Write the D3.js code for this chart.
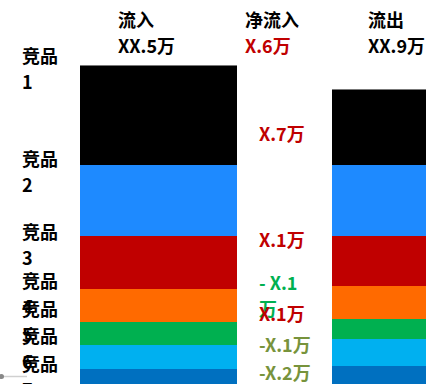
<!DOCTYPE html>
<html>
<head>
<meta charset="utf-8">
<script src="https://cdn.jsdelivr.net/npm/d3@7/dist/d3.min.js"></script>
<style>
  html, body { margin: 0; padding: 0; background: #fff; overflow: hidden; }
  svg { display: block; }
  text { font-family: "Microsoft YaHei", "Noto Sans CJK SC", sans-serif; font-weight: 700; }
</style>
</head>
<body>
<svg id="chart" width="426" height="384"></svg>
<script>
// Competitor categories, stacked top to bottom
const categories = ["竞品1", "竞品2", "竞品3", "竞品4", "竞品5", "竞品6", "竞品7"];
const segmentColors = ["#000000", "#1E8AFF", "#C00000", "#FF6A00", "#00B050", "#00B0F0", "#0070C0"];

// Flow amounts per competitor (万)
const inflow  = [4.00, 2.84, 2.12, 1.32, 0.92, 0.96, 1.24];
const outflow = [3.04, 2.84, 2.00, 1.32, 0.80, 1.08, 1.36];

// Column headers and their summary figures
const columns = ["流入", "流出"];
const headerTitles = ["流入", "净流入", "流出"];
const headerValues = ["XX.5万", "X.6万", "XX.9万"];
const headerValueColors = ["#000000", "#C00000", "#000000"];

// Net-flow annotations per competitor (null = not labelled)
const netLabels = ["X.7万", null, "X.1万", "- X.1 万", "X.1万", "-X.1万", "-X.2万"];
const netColors = ["#C00000", null, "#C00000", "#00B050", "#C00000", "#77933C", "#77933C"];

const svg = d3.select("#chart");

const y = d3.scaleLinear().domain([0, 16]).range([400, 0]);
const x = d3.scaleBand().domain(columns).range([80, 489]).paddingInner(0.377).paddingOuter(0);

function stackOf(values) {
  let acc = d3.sum(values);
  return values.map((v, i) => {
    const top = acc;
    acc -= v;
    return { i, top, bottom: acc };
  });
}

const stacks = { "流入": stackOf(inflow), "流出": stackOf(outflow) };

// Stacked bars
columns.forEach(col => {
  svg.append("g").selectAll("rect")
    .data(stacks[col])
    .join("rect")
    .attr("x", x(col))
    .attr("width", x.bandwidth())
    .attr("y", d => y(d.top))
    .attr("height", d => y(d.bottom) - y(d.top))
    .attr("fill", d => segmentColors[d.i]);
  // faint top edge
  const s = stacks[col][0];
  svg.append("line")
    .attr("x1", x(col)).attr("x2", x(col) + x.bandwidth())
    .attr("y1", y(s.top) + 0.5).attr("y2", y(s.top) + 0.5)
    .attr("stroke", "#777").attr("stroke-width", 1);
});

// Headers
const headerX = [x("流入") + 38, x("流入") + x.bandwidth() + 8, x("流出") + 36];
const header = svg.append("g").attr("font-size", 18);
headerTitles.forEach((t, i) => {
  header.append("text").attr("x", headerX[i]).attr("y", 27).attr("fill", "#000").text(t);
  header.append("text").attr("x", headerX[i]).attr("y", 53).attr("fill", headerValueColors[i]).text(headerValues[i]);
});

// Category labels on the left, two lines each, aligned to each inflow segment top
const labelNudge = [-8, -5, -3, -7, -12, -8, -4];
const catG = svg.append("g").attr("font-size", 18).attr("fill", "#000");
categories.forEach((c, i) => {
  const top = y(stacks["流入"][i].top) + labelNudge[i];
  const t = catG.append("text").attr("x", 22).attr("y", top + 6);
  t.append("tspan").attr("x", 22).text(c.slice(0, 2));
  t.append("tspan").attr("x", 22).attr("dy", 26).text(c.slice(2));
});

// Net-flow annotations in the gap between the bars
const netX = x("流入") + x.bandwidth() + 22;
const netY = [135, null, 241, 284, 315, 346, 374];
const netG = svg.append("g").attr("font-size", 18);
netLabels.forEach((lab, i) => {
  if (!lab) return;
  const t = netG.append("text").attr("fill", netColors[i]).attr("y", netY[i] + 6);
  if (lab.endsWith(" 万") && lab.startsWith("- ")) {
    t.append("tspan").attr("x", netX).text(lab.slice(0, -2));
    t.append("tspan").attr("x", netX).attr("dy", 26).text("万");
  } else {
    t.attr("x", netX).text(lab);
  }
});

// small scroll marker at the lower-left corner
svg.append("line").attr("x1", 1).attr("x2", 27).attr("y1", 376.5).attr("y2", 376.5)
  .attr("stroke", "#d0d0d0").attr("stroke-width", 1.5);
svg.append("circle").attr("cx", 1.5).attr("cy", 376.5).attr("r", 2.5).attr("fill", "#888");
</script>
</body>
</html>
